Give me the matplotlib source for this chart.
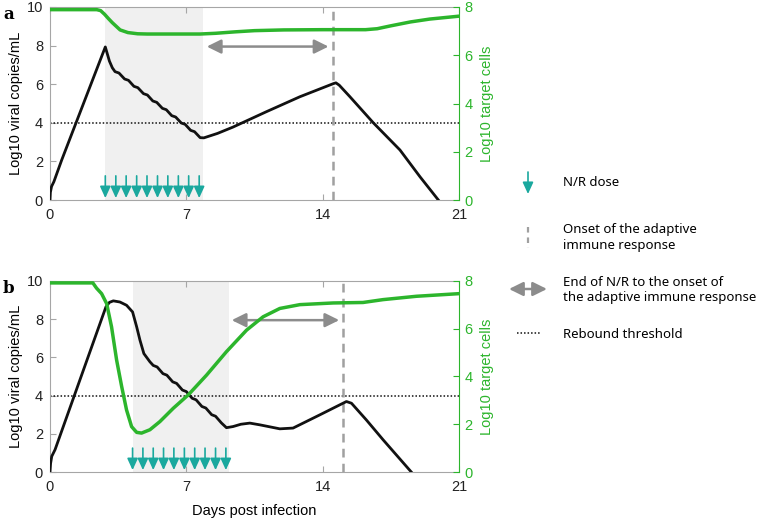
import numpy as np
import matplotlib.pyplot as plt

plt.rcParams['font.family'] = ['Liberation Sans', 'DejaVu Sans']

# ---- panel a ----
days_a = [0, 0.02, 0.08, 0.2, 0.6, 2.84, 3.05, 3.2, 3.34, 3.54, 3.83, 4.03, 4.31, 4.51, 4.80, 5.00,
          5.28, 5.48, 5.77, 5.97, 6.25, 6.45, 6.74, 6.94, 7.22, 7.42, 7.71, 7.9, 8.6, 9.4,
          11.1, 12.83, 14.55, 14.68, 14.85, 15.4, 16.6, 17.97, 19.0, 19.94]
viral_a = [0, 0.4, 0.7, 0.95, 2.07, 7.93, 7.2, 6.85, 6.65, 6.58, 6.27, 6.20, 5.89, 5.82, 5.51, 5.44,
           5.13, 5.06, 4.75, 4.68, 4.37, 4.30, 3.99, 3.92, 3.61, 3.54, 3.23, 3.22, 3.45, 3.78,
           4.57, 5.35, 6.03, 6.07, 5.95, 5.35, 4.0, 2.59, 1.2, 0]
tdays_a = [0, 2.4, 2.6, 2.8, 3.0, 3.2, 3.6, 4.0, 4.5, 5.0, 7.7, 8.5, 9.5, 10.5, 12, 14, 16.2,
           16.8, 17.5, 18.5, 19.5, 21]
target_a = [7.89, 7.89, 7.85, 7.7, 7.52, 7.35, 7.05, 6.94, 6.89, 6.88, 6.88, 6.91, 6.97, 7.02,
            7.05, 7.06, 7.06, 7.1, 7.22, 7.38, 7.5, 7.62]
doses_a = [2.84, 3.38, 3.91, 4.45, 4.98, 5.52, 6.05, 6.59, 7.12, 7.66]
treat_a = (2.84, 7.85)
onset_a = 14.55
gap_a = (8.05, 14.3)

# ---- panel b ----
days_b = [0, 0.03, 0.09, 0.26, 2.87, 3.05, 3.25, 3.59, 3.93, 4.24, 4.45, 4.62, 4.82, 5.13,
          5.30, 5.50, 5.80, 6.00, 6.30, 6.50, 6.80, 7.00, 7.30, 7.50, 7.80, 8.00, 8.30, 8.50,
          8.80, 9.06, 9.4, 9.8, 10.26, 10.77, 11.8, 12.48, 13.85, 15.22, 15.48, 16.24, 17.1, 18.55]
viral_b = [0, 0.45, 0.82, 1.17, 8.64, 8.88, 8.96, 8.9, 8.73, 8.38, 7.6, 6.9, 6.2, 5.77,
           5.58, 5.50, 5.15, 5.07, 4.72, 4.64, 4.29, 4.21, 3.86, 3.78, 3.43, 3.35, 3.00, 2.92,
           2.57, 2.32, 2.38, 2.5, 2.56, 2.47, 2.26, 2.3, 2.99, 3.69, 3.6, 2.73, 1.69, 0]
tdays_b = [0, 2.2, 2.39, 2.65, 2.91, 3.16, 3.42, 3.68, 3.93, 4.19, 4.45, 4.7, 5.13, 5.64, 6.33,
           7.1, 8.04, 9.06, 10.09, 10.94, 11.8, 12.83, 14.54, 16.07, 17.1, 18.81, 21]
target_b = [7.92, 7.92, 7.7, 7.47, 7.05, 6.08, 4.69, 3.58, 2.6, 1.9, 1.66, 1.63, 1.77, 2.11,
            2.67, 3.23, 4.06, 5.04, 5.94, 6.5, 6.85, 7.01, 7.08, 7.1, 7.22, 7.36, 7.47]
doses_b = [4.24, 4.77, 5.30, 5.83, 6.36, 6.90, 7.43, 7.96, 8.50, 9.03]
treat_b = (4.24, 9.2)
onset_b = 15.05
gap_b = (9.33, 14.85)

threshold = 4
xticks = [0, 7, 14, 21]

black = '#111111'
green = '#2cb52c'
teal = '#1aa89e'
grey = '#8c8c8c'
spine = '#a6a6a6'
legfont = 'Noto Sans'
dose_style = '-|>,head_length=0.7,head_width=0.32'
gap_style = '<|-|>,head_length=0.85,head_width=0.42'

fig = plt.figure(figsize=(7.58, 5.2), dpi=100)


def panel(rect, days, viral, tdays, target, doses, treat, onset, gap, letter, xlabel):
    ax = fig.add_axes(rect)
    ax.set_xlim(0, 21)
    ax.set_ylim(0, 10)
    ax.axvspan(treat[0], treat[1], color='#f0f0f0', lw=0, zorder=0)
    ax.axhline(threshold, color=black, ls=(0, (1, 1.3)), lw=1.1, zorder=2)
    ax.axvline(onset, color='#a0a0a0', ls=(0, (3.5, 2.5)), lw=1.8, zorder=2)
    ax.plot(days, viral, color=black, lw=2.0, solid_joinstyle='round', zorder=4)
    for d in doses:
        ax.annotate('', xy=(d, 0.1), xytext=(d, 1.25),
                    arrowprops=dict(arrowstyle=dose_style, color=teal, lw=1.2,
                                    shrinkA=0, shrinkB=0), zorder=5)
    ax.annotate('', xy=(gap[0], 7.95), xytext=(gap[1], 7.95),
                arrowprops=dict(arrowstyle=gap_style, color=grey, lw=1.8,
                                shrinkA=0, shrinkB=0), zorder=5)
    ax.set_xticks(xticks)
    ax.set_yticks(range(0, 11, 2))
    ax.tick_params(direction='in', length=4, color=spine, labelsize=10.5,
                   labelcolor='#222222', top=True)
    ax.tick_params(axis='x', pad=6)
    ax.tick_params(axis='y', pad=5)
    for s in ['left', 'top', 'bottom']:
        ax.spines[s].set_color(spine)
    ax.spines['right'].set_visible(False)
    ax.set_ylabel('Log10 viral copies/mL', fontsize=10.5, labelpad=3)
    if xlabel:
        ax.set_xlabel('Days post infection', fontsize=10.5, labelpad=7)

    ax2 = ax.twinx()
    ax2.set_ylim(0, 8)
    ax2.plot(tdays, target, color=green, lw=2.5, zorder=3)
    ax2.set_yticks(range(0, 9, 2))
    ax2.tick_params(direction='in', length=4, color=green, labelcolor=green, labelsize=10.5, pad=4)
    for s in ['left', 'top', 'bottom']:
        ax2.spines[s].set_visible(False)
    ax2.spines['right'].set_color(green)
    ax2.set_ylabel('Log10 target cells', color=green, fontsize=10.5, rotation=90, labelpad=5)
    fig.text(0.004, rect[1] + rect[3] + 0.001, letter, fontsize=12, fontweight='bold',
             family='DejaVu Serif', va='top', ha='left')
    return ax


panel([50 / 758, 1 - 200 / 520, 409 / 758, 193 / 520], days_a, viral_a, tdays_a, target_a,
      doses_a, treat_a, onset_a, gap_a, 'a', False)
panel([50 / 758, 1 - 472 / 520, 409 / 758, 191 / 520], days_b, viral_b, tdays_b, target_b,
      doses_b, treat_b, onset_b, gap_b, 'b', True)

# legend drawn in pixel space
lax = fig.add_axes([0, 0, 1, 1], zorder=-1)
lax.set_xlim(0, 758)
lax.set_ylim(520, 0)
lax.axis('off')
lax.annotate('', xy=(528, 194), xytext=(528, 172),
             arrowprops=dict(arrowstyle=dose_style, color=teal, lw=1.2, shrinkA=0, shrinkB=0))
lax.text(563, 183, 'N/R dose', fontsize=9.5, family=legfont, va='center')
lax.plot([528, 528], [227, 248], color='#a0a0a0', ls=(0, (2.5, 2.2)), lw=1.6)
lax.text(563, 238, 'Onset of the adaptive\nimmune response', fontsize=9.5, family=legfont,
         va='center', linespacing=1.3)
lax.annotate('', xy=(509, 289), xytext=(547, 289),
             arrowprops=dict(arrowstyle=gap_style, color=grey, lw=1.8, shrinkA=0, shrinkB=0))
lax.text(563, 290, 'End of N/R to the onset of\nthe adaptive immune response', fontsize=9.5,
         family=legfont, va='center', linespacing=1.3)
lax.plot([517, 540], [333, 333], color=black, ls=(0, (1, 1.3)), lw=1.1)
lax.text(563, 334, 'Rebound threshold', fontsize=9.5, family=legfont, va='center')

fig.savefig('out.png', dpi=100)
